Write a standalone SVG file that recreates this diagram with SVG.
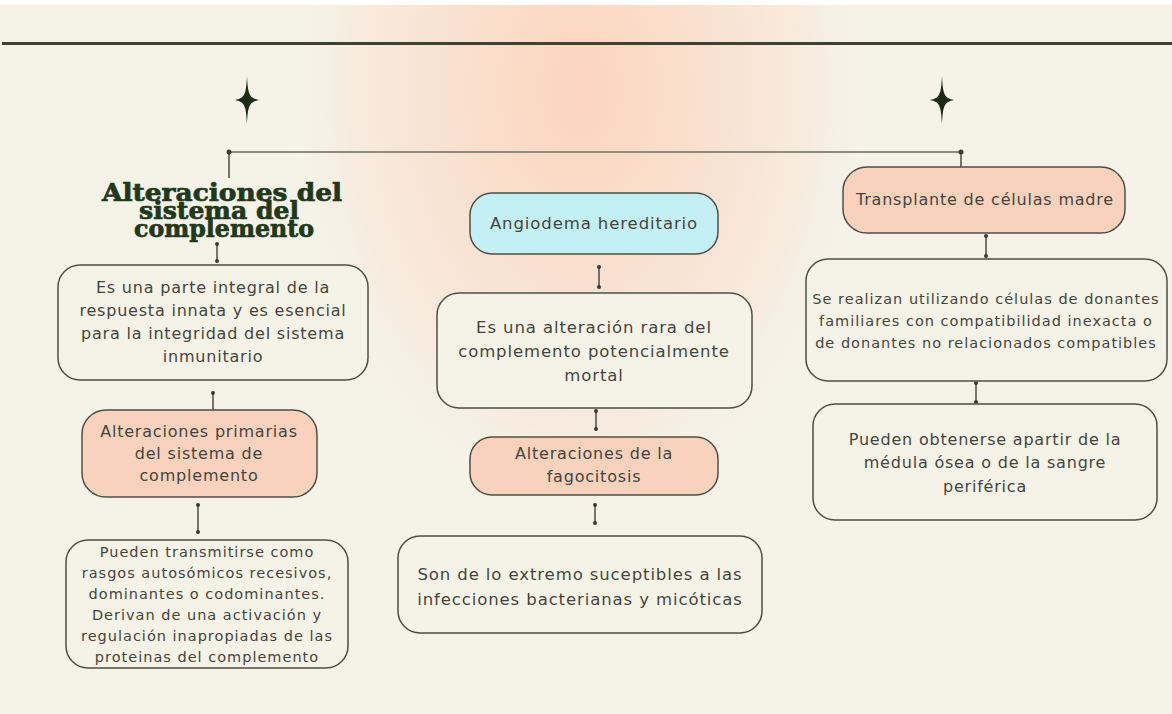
<svg xmlns="http://www.w3.org/2000/svg" width="1172" height="714" viewBox="0 0 1172 714">
<defs>
<radialGradient id="glow" cx="580" cy="90" r="360" gradientUnits="userSpaceOnUse" gradientTransform="translate(580 90) scale(0.85 1.25) translate(-580 -90)">
<stop offset="0" stop-color="#fcd5be"/>
<stop offset="0.4" stop-color="#f9e0cf"/>
<stop offset="0.75" stop-color="#f7ebdf"/>
<stop offset="1" stop-color="#f5f3e8" stop-opacity="0"/>
</radialGradient>
<path id="star" d="M0,-24 C1,-6 2,-2 12,0 C2,2 1,6 0,24 C-1,6 -2,2 -12,0 C-2,-2 -1,-6 0,-24 Z"/>
</defs>
<style>
.box{stroke:#4f4f45;stroke-width:1.5;fill:#f5f3e8}
.peach{fill:#f9d2be}
.cyan{fill:#c4eff4}
.t{font-family:"DejaVu Sans",sans-serif;fill:#45453d;text-anchor:middle}
.t16{font-size:16px;letter-spacing:0.8px}
.t17{font-size:16.5px;letter-spacing:0.9px}
.t14{font-size:14.5px;letter-spacing:1px}
.title{font-family:"DejaVu Serif",serif;font-weight:bold;font-size:24px;fill:#22381a;stroke:#22381a;stroke-width:0.7;text-anchor:middle}
.c{stroke:#55554a;stroke-width:1.6;fill:none}
.dot{fill:#3b3b33}
</style>
<rect width="1172" height="714" fill="#f5f3e8"/>
<rect width="1172" height="714" fill="url(#glow)"/>
<rect x="0" y="0" width="1172" height="5" fill="#ffffff"/>
<line x1="2" y1="43.5" x2="1172" y2="43.5" stroke="#3e4232" stroke-width="3"/>
<use href="#star" x="247" y="100" fill="#1f2a15"/>
<use href="#star" x="942" y="100" fill="#1f2a15"/>

<g id="connectors">
<path d="M229,152 H961" stroke="#8d8b7c" stroke-width="2" fill="none"/>
<path class="c" d="M229,152 V178"/>
<path class="c" d="M961,152 V167"/>
<circle class="dot" cx="229" cy="152" r="2.5"/>
<circle class="dot" cx="961" cy="152" r="2.5"/>
<path class="c" d="M217,243 V262"/>
<circle class="dot" cx="217" cy="244" r="2"/>
<circle class="dot" cx="217" cy="261" r="2"/>
<path class="c" d="M213,392 V410"/>
<circle class="dot" cx="213" cy="393" r="2"/>
<path class="c" d="M198,504 V533"/>
<circle class="dot" cx="198" cy="505" r="2"/>
<circle class="dot" cx="198" cy="532" r="2"/>
<path class="c" d="M599,267 V287"/>
<circle class="dot" cx="599" cy="267" r="2"/>
<circle class="dot" cx="599" cy="287" r="2"/>
<path class="c" d="M596,410 V430"/>
<circle class="dot" cx="596" cy="411" r="2"/>
<circle class="dot" cx="596" cy="429" r="2"/>
<path class="c" d="M595,504 V523"/>
<circle class="dot" cx="595" cy="505" r="2"/>
<circle class="dot" cx="595" cy="523" r="2"/>
<path class="c" d="M986,235 V257"/>
<circle class="dot" cx="986" cy="236" r="2"/>
<circle class="dot" cx="986" cy="256" r="2"/>
<path class="c" d="M976,382 V403"/>
<circle class="dot" cx="976" cy="383" r="2"/>
<circle class="dot" cx="976" cy="402" r="2"/>
</g>

<g id="title">
<text class="title" x="222" y="201" textLength="240" lengthAdjust="spacingAndGlyphs">Alteraciones del</text>
<text class="title" x="219" y="219" textLength="160" lengthAdjust="spacingAndGlyphs">sistema  del</text>
<text class="title" x="224" y="237" textLength="180" lengthAdjust="spacingAndGlyphs">complemento</text>
</g>

<g id="n-integral">
<rect class="box" x="58" y="265" width="310" height="115" rx="22"/>
<text class="t t16" x="213" y="293">Es una parte integral de la</text>
<text class="t t16" x="213" y="316">respuesta innata y es esencial</text>
<text class="t t16" x="213" y="339">para la integridad del sistema</text>
<text class="t t16" x="213" y="362">inmunitario</text>
</g>

<g id="n-primarias">
<rect class="box peach" x="82" y="410" width="235" height="87" rx="24"/>
<text class="t t16" x="199" y="437">Alteraciones primarias</text>
<text class="t t16" x="199" y="459">del sistema de</text>
<text class="t t16" x="199" y="481">complemento</text>
</g>

<g id="n-pueden">
<rect class="box" x="66" y="540" width="282" height="128" rx="22"/>
<text class="t t14" x="207" y="557">Pueden transmitirse como</text>
<text class="t t14" x="207" y="578">rasgos  autosómicos recesivos,</text>
<text class="t t14" x="207" y="599">dominantes o codominantes.</text>
<text class="t t14" x="207" y="620">Derivan de una activación y</text>
<text class="t t14" x="207" y="641">regulación inapropiadas de las</text>
<text class="t t14" x="207" y="662">proteinas del complemento</text>
</g>

<g id="n-angiodema">
<rect class="box cyan" x="470" y="193" width="248" height="61" rx="22"/>
<text class="t t17" x="594" y="229">Angiodema hereditario</text>
</g>

<g id="n-rara">
<rect class="box" x="437" y="293" width="315" height="115" rx="22"/>
<text class="t t17" x="594" y="333">Es una alteración rara del</text>
<text class="t t17" x="594" y="357">complemento potencialmente</text>
<text class="t t17" x="594" y="381">mortal</text>
</g>

<g id="n-fagocitosis">
<rect class="box peach" x="470" y="437" width="248" height="58" rx="22"/>
<text class="t t16" x="594" y="459">Alteraciones de la</text>
<text class="t t16" x="594" y="482">fagocitosis</text>
</g>

<g id="n-suceptibles">
<rect class="box" x="398" y="536" width="364" height="97" rx="22"/>
<text class="t t17" x="580" y="580">Son de lo extremo suceptibles a las</text>
<text class="t t17" x="580" y="605">infecciones bacterianas y micóticas</text>
</g>

<g id="n-transplante">
<rect class="box peach" x="843" y="167" width="282" height="66" rx="24"/>
<text class="t t16" x="985" y="205">Transplante de células madre</text>
</g>

<g id="n-realizan">
<rect class="box" x="806" y="259" width="361" height="122" rx="22"/>
<text class="t t14" x="986" y="304">Se realizan utilizando células de donantes</text>
<text class="t t14" x="986" y="326"> familiares con compatibilidad inexacta o</text>
<text class="t t14" x="986" y="348">de donantes no relacionados compatibles</text>
</g>

<g id="n-obtenerse">
<rect class="box" x="813" y="404" width="344" height="116" rx="22"/>
<text class="t t16" x="985" y="445">Pueden obtenerse apartir de la</text>
<text class="t t16" x="985" y="468">médula ósea  o de la sangre</text>
<text class="t t16" x="985" y="492">periférica</text>
</g>
</svg>
